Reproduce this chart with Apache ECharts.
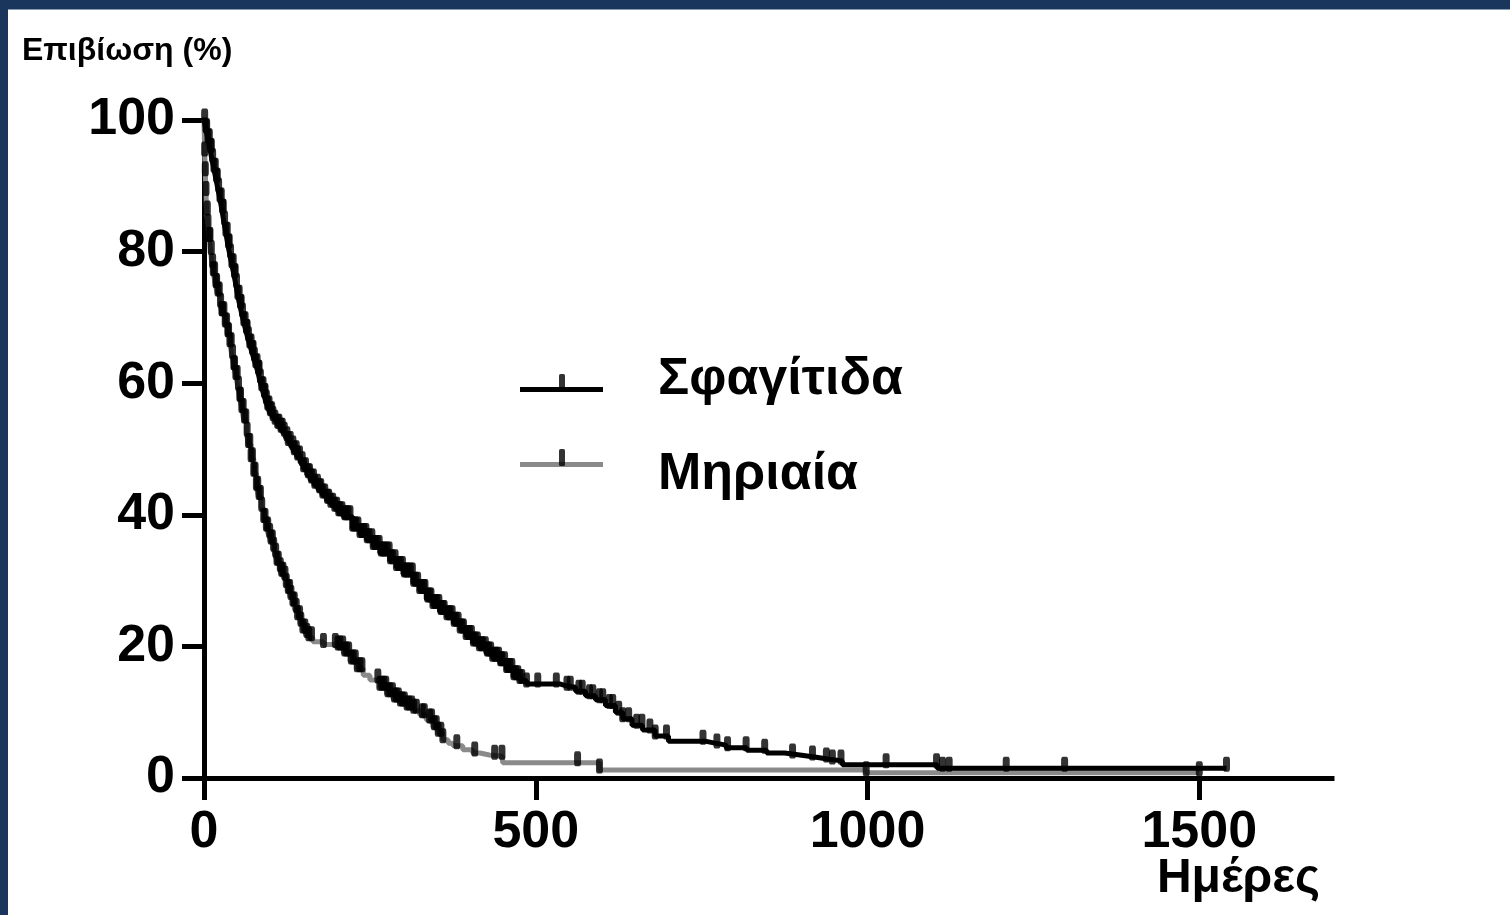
<!DOCTYPE html>
<html>
<head>
<meta charset="utf-8">
<script src="https://cdn.jsdelivr.net/npm/echarts@6/dist/echarts.min.js"></script>
<style>
  html, body { margin: 0; padding: 0; background: #fff; }
  #chart { position: absolute; left: 0; top: 0; width: 1510px; height: 915px; }
  .edge-top { position: absolute; left: 0; top: 0; width: 1510px; height: 9px; background: #1b365d; border-bottom: 1px solid #8a9bb4; }
  .edge-left { position: absolute; left: 0; top: 0; width: 8px; height: 915px; background: #1b365d; }
</style>
</head>
<body>
<div id="chart"></div>
<div class="edge-top"></div>
<div class="edge-left"></div>
<script>
// Σφαγίτιδα (upper curve): days and survival %
const upperDays = [0, 3, 6, 9, 12, 15, 18, 21, 24, 27, 30, 33, 36, 39, 42, 45, 48, 51, 54, 57,
  60, 63, 66, 69, 72, 75, 78, 81, 84, 87, 90, 93, 96, 99, 103, 107, 111, 115, 119, 123,
  127, 131, 135, 140, 145, 150, 155, 160, 166, 172, 178, 185, 191, 197, 203, 210, 224, 235, 245, 255,
  265, 280, 290, 300, 315, 325, 335, 345, 355, 366, 376, 386, 395, 405, 415, 425, 435, 446, 456, 466,
  476, 486, 536, 546, 560, 575, 590, 605, 620, 631, 645, 661, 680, 700, 755, 770, 787, 818, 848, 875,
  898, 920, 940, 962, 1105, 1541]
const upperSurv = [100, 98.5, 97, 95.5, 94, 92.5, 91, 89.5, 88, 86.3, 84.5, 82.8, 81, 79.5, 78, 76.5, 75, 73.2, 71.8, 70.5,
  69.2, 68, 66.9, 65.8, 64.8, 63.8, 62.8, 61.8, 60.5, 59.3, 58.3, 57.3, 56.4, 55.5, 54.8, 54.2, 53.6, 53, 52.4, 51.7,
  51, 50.3, 49.6, 48.8, 47.9, 47, 46.1, 45.3, 44.5, 43.8, 43, 42.2, 41.6, 41, 40.3, 39.7, 38, 37, 36.2, 35.2,
  34.2, 33, 32, 31, 29.6, 28.5, 27.2, 26.2, 25.3, 24.5, 23.5, 22.5, 21.5, 20.5, 19.8, 19, 18.2, 17.5, 16.5, 15.4,
  14.8, 14.3, 14, 13.8, 13.2, 12.5, 11.9, 11, 10, 9, 8, 7.3, 6.4, 5.6, 5.3, 5, 4.6, 4.2, 3.8, 3.5,
  3.2, 2.9, 2.6, 2.0, 1.5, 1.5]
// censored patients (tick marks), days
const upperCensored = [1, 3, 4, 6, 8, 10, 11, 13, 15, 17, 19, 20, 22, 24, 26, 28, 29, 31, 33, 35,
  37, 38, 40, 42, 44, 46, 47, 49, 51, 53, 55, 56, 58, 60, 62, 64, 65, 67, 69, 71,
  73, 74, 76, 78, 80, 82, 83, 85, 87, 89, 91, 92, 94, 96, 98, 100,
  102, 104, 107, 111, 113, 116, 118, 121, 125, 127, 130, 134, 136, 139, 141, 144, 148, 150, 153, 157,
  159, 162, 165, 167, 171, 174, 176, 179, 182, 186, 188, 191, 194, 197, 200, 203, 205, 208, 212, 214,
  217, 220, 224, 226, 229, 232, 235, 238, 241, 244, 246, 249, 253, 255, 258, 261, 264, 267, 270, 272,
  276, 279, 281, 284, 288, 290, 293, 296, 299, 302, 305, 307, 311, 314, 316, 319, 322, 325, 328, 331,
  333, 337, 340, 342, 345, 348, 351, 354, 357, 360, 362, 366, 369, 371, 374, 377, 380, 383, 386, 389,
  391, 395, 398, 400, 403, 406, 409, 412, 415, 418, 420, 424, 427, 429, 432, 435, 438, 441, 444, 447,
  449, 453, 456, 458, 461, 464, 467, 470, 473, 476, 479,
  486, 503, 531, 547, 552, 565, 570, 581, 586, 596, 601, 611, 616, 625, 631, 640, 652, 660, 672, 680,
  697, 752, 773, 789, 817, 845, 887, 917, 938, 947, 960, 1028, 1104, 1113, 1123, 1209, 1297, 1541]

// Μηριαία (lower curve)
const lowerDays = [0, 1, 2, 3, 4, 6, 8, 10, 12, 14, 17, 20, 24, 27, 31, 35, 39, 42, 45, 48,
  51, 54, 57, 60, 64, 67, 71, 75, 79, 82, 86, 90, 94, 97, 100, 104, 107, 110, 114, 117,
  120, 124, 127, 130, 134, 137, 141, 145, 149, 153, 157, 164, 180, 200, 210, 220, 230, 240, 250, 265,
  275, 285, 295, 305, 315, 325, 335, 345, 352, 360, 368, 375, 390, 405, 416, 430, 450, 596, 998, 1500]
const lowerSurv = [100, 95, 92, 89, 86, 84, 82, 80, 78, 76.8, 75, 73.7, 72, 70.7, 69, 67.5, 66, 64.2, 62.5, 61,
  59.4, 57.7, 56, 54.4, 52.4, 50.7, 48.5, 46.3, 44.2, 42.8, 41, 39.3, 38, 37, 36, 34.9, 34, 32.8, 31.8, 31.1,
  30.5, 29.4, 28.5, 27.6, 26.6, 25.6, 24.5, 23.5, 22.5, 21.8, 21.3, 20.7, 20.3, 19.9, 19, 17.8, 16.6, 15.6, 14.9, 13.8,
  12.8, 12, 11.4, 10.8, 10.3, 9.6, 8.8, 7.8, 6.8, 5.8, 5.3, 4.9, 4.3, 3.8, 3.5, 3.3, 2.3, 1.2, 0.8, 0.8]
const lowerCensored = [1, 2, 3, 5, 6, 8, 9, 11, 13, 14, 16, 18, 19, 21, 23, 25, 27, 28, 30, 32,
  34, 36, 37, 39, 41, 43, 45, 46, 48, 50, 52, 54, 55, 57, 59, 61, 63, 65, 67, 69,
  71, 73, 75, 77, 79, 81, 83, 85, 87, 90, 92, 94, 96, 99, 101, 103, 105, 108, 110, 112,
  115, 117, 119, 122, 124, 127, 129, 131, 134, 136, 139, 141, 144, 146, 149, 152, 155, 158, 162, 180,
  198, 202, 205, 209, 212, 215, 218, 222, 225, 228, 231, 235, 238, 262, 265, 268, 271, 274, 277, 280,
  284, 287, 290, 293, 296, 299, 302, 306, 309, 313, 316, 320, 329, 332, 340, 343, 347, 350, 353, 357,
  360, 381, 408, 438, 449, 563, 596, 998, 1500]

const xTicks = [0, 500, 1000, 1500]
const yTicks = [0, 20, 40, 60, 80, 100]
const names = ['Σφαγίτιδα', 'Μηριαία']
const FONT = "'Liberation Sans', Arial, sans-serif"

// survival value of a step curve at day t
function survivalAt(days, surv, t) {
  let s = surv[0]
  for (let i = 0; i < days.length; i++) {
    if (days[i] <= t) s = surv[i]
    else break
  }
  return s
}

const upperLine = upperDays.map((d, i) => [d, upperSurv[i]])
const lowerLine = lowerDays.map((d, i) => [d, lowerSurv[i]])
const upperMarks = upperCensored.map((t) => [t, survivalAt(upperDays, upperSurv, t)])
const lowerMarks = lowerCensored.map((t) => [t, survivalAt(lowerDays, lowerSurv, t)])

const chart = echarts.init(document.getElementById('chart'))

const censorStyle = {
  type: 'scatter',
  symbol: 'roundRect',
  symbolSize: [7, 15],
  symbolOffset: [0, -4],
  itemStyle: { color: '#000' },
  z: 5,
  silent: true
}

const axisLabelStyle = {
  fontFamily: FONT,
  fontSize: 52,
  fontWeight: 'bold',
  color: '#000'
}

const option = {
  animation: false,
  backgroundColor: '#fff',
  title: [
    {
      text: 'Επιβίωση (%)',
      left: 22,
      top: 35,
      padding: 0,
      textStyle: { fontFamily: FONT, fontSize: 32, fontWeight: 'bold', color: '#000' }
    },
    {
      text: 'Ημέρες',
      right: 190,
      top: 855,
      padding: 0,
      textStyle: { fontFamily: FONT, fontSize: 48, fontWeight: 'bold', color: '#000' }
    }
  ],
  legend: [
    // text rows
    {
      data: names,
      orient: 'vertical',
      left: 652,
      top: 354,
      padding: 0,
      itemGap: 43,
      itemWidth: 1,
      itemHeight: 1,
      icon: 'rect',
      itemStyle: { opacity: 0 },
      selectedMode: false,
      textStyle: { fontFamily: FONT, fontSize: 52, fontWeight: 'bold', color: '#000', lineHeight: 50 }
    },
    // line samples
    {
      data: names,
      orient: 'vertical',
      left: 520,
      top: 387,
      padding: 0,
      itemGap: 70,
      itemWidth: 83,
      itemHeight: 5,
      icon: 'rect',
      selectedMode: false,
      formatter: () => '',
      textStyle: { fontSize: 1, lineHeight: 1 }
    },
    // censor tick samples
    {
      data: ['Σφαγίτιδα censored', 'Μηριαία censored'],
      orient: 'vertical',
      left: 559,
      top: 374,
      padding: 0,
      itemGap: 58,
      itemWidth: 6,
      itemHeight: 17,
      icon: 'roundRect',
      selectedMode: false,
      formatter: () => '',
      textStyle: { fontSize: 1, lineHeight: 1 }
    }
  ],
  grid: {
    left: 204,
    top: 120,
    right: 178,
    bottom: 137,
    containLabel: false
  },
  xAxis: {
    type: 'value',
    min: 0,
    max: 1700,
    splitLine: { show: false },
    axisLine: { show: true, lineStyle: { color: '#000', width: 5, cap: 'square' } },
    axisTick: { show: true, length: 22, lineStyle: { color: '#000', width: 5 }, customValues: xTicks },
    axisLabel: Object.assign({ customValues: xTicks, margin: 29, formatter: (v) => String(v) }, axisLabelStyle)
  },
  yAxis: {
    type: 'value',
    min: 0,
    max: 100,
    interval: 20,
    splitLine: { show: false },
    axisLine: { show: true, lineStyle: { color: '#000', width: 5, cap: 'square' } },
    axisTick: { show: true, length: 22, lineStyle: { color: '#000', width: 5 }, customValues: yTicks },
    axisLabel: Object.assign({ customValues: yTicks, margin: 29, formatter: (v) => String(v) }, axisLabelStyle)
  },
  series: [
    {
      name: 'Μηριαία',
      type: 'line',
      step: 'end',
      data: lowerLine,
      showSymbol: false,
      itemStyle: { color: '#8a8a8a' },
      lineStyle: { color: '#8a8a8a', width: 5 },
      z: 2
    },
    {
      name: 'Σφαγίτιδα',
      type: 'line',
      step: 'end',
      data: upperLine,
      showSymbol: false,
      itemStyle: { color: '#000' },
      lineStyle: { color: '#000', width: 5 },
      z: 3
    },
    Object.assign({ name: 'Μηριαία censored', data: lowerMarks }, censorStyle),
    Object.assign({ name: 'Σφαγίτιδα censored', data: upperMarks }, censorStyle)
  ]
}

chart.setOption(option)
</script>
</body>
</html>
